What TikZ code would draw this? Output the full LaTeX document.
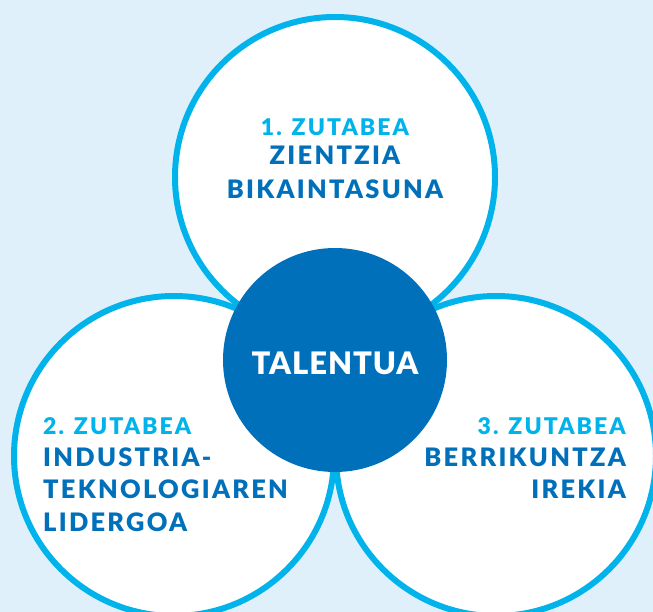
\documentclass[tikz,border=0pt]{standalone}
\usepackage{fontspec}
\setmainfont{Lato}
\newfontfamily\corefont[LetterSpace=3]{Lato Black}
\newfontfamily\heavyfont[LetterSpace=9]{Lato Black}
\definecolor{bgblue}{HTML}{E0F0FB}
\definecolor{ringcyan}{HTML}{00B4EB}
\definecolor{coreblue}{HTML}{0070BB}
\tikzset{
	pillar/.style={circle, draw=ringcyan, line width=6pt, fill=white, minimum size=320pt, inner sep=0pt},
	core/.style={circle, fill=coreblue, minimum size=224pt, inner sep=0pt},
	numlabel/.style={inner sep=0pt, text=ringcyan, font=\heavyfont\fontsize{23}{26}\selectfont},
	namelabel/.style={inner sep=0pt, text=coreblue, font=\heavyfont\fontsize{25.4}{30}\selectfont}
}
\begin{document}
\begin{tikzpicture}[x=1pt, y=-1pt]
		\fill[bgblue] (0,0) rectangle (653,612);
		\useasboundingbox (0,0) rectangle (653,612);
		\clip (0,0) rectangle (653,612);

		% the three pillars
		\node[pillar] (zientzia) at (335,177) {};
		\node[pillar] (industria) at (174,456) {};
		\node[pillar] (berrikuntza) at (496,456) {};
		\node[core] (talentua) at (335,360) {};

		\node[anchor=base, inner sep=0pt, text=white, font=\corefont\fontsize{31}{36}\selectfont] (talentutxt) at (335,374) {TALENTUA};

		% 1. zutabea
		\node[numlabel, anchor=base] (z1) at (335,136) {1. ZUTABEA};
		\node[namelabel, anchor=base] (z1a) at (335,165) {ZIENTZIA};
		\node[namelabel, anchor=base] (z1b) at (335,198.5) {BIKAINTASUNA};

		% 2. zutabea
		\node[numlabel, anchor=base west] (z2) at (43,434) {2. ZUTABEA};
		\node[namelabel, anchor=base west] (z2a) at (43,466) {INDUSTRIA-};
		\node[namelabel, anchor=base west] (z2b) at (43,498.5) {TEKNOLOGIAREN};
		\node[namelabel, anchor=base west] (z2c) at (43,531) {LIDERGOA};

		% 3. zutabea
		\node[numlabel, anchor=base east] (z3) at (626,434) {3. ZUTABEA};
		\node[namelabel, anchor=base east] (z3a) at (626,466) {BERRIKUNTZA};
		\node[namelabel, anchor=base east] (z3b) at (626,498.5) {IREKIA};
\end{tikzpicture}
\end{document}
